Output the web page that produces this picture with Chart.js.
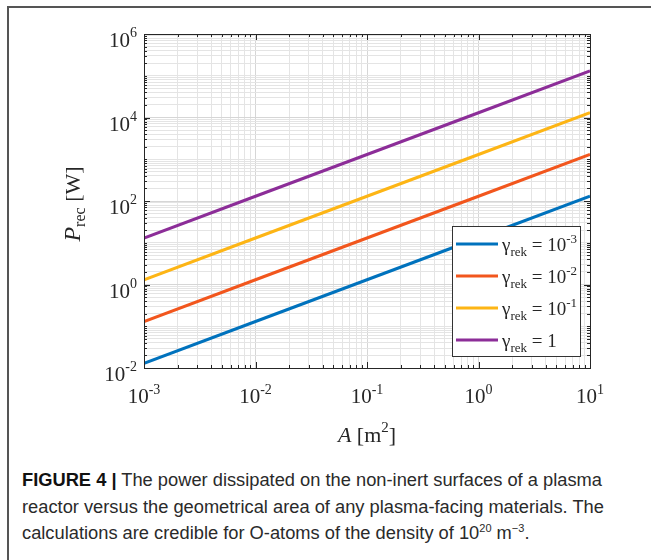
<!DOCTYPE html>
<html>
<head>
<meta charset="utf-8">
<script src="https://cdn.jsdelivr.net/npm/chart.js@4.4.1/dist/chart.umd.min.js"></script>
<style>
  body { margin: 0; background: #fff; width: 651px; height: 560px; overflow: hidden; position: relative; }
  #frame { position: absolute; left: 7px; top: 6px; width: 700px; height: 600px; border-left: 2px solid #555; border-top: 2px solid #555; }
  #wrap { position: absolute; left: 0; top: 0; width: 651px; height: 455px; }
  #caption { position: absolute; left: 22px; top: 467px; font-family: "Liberation Sans", Arial, sans-serif; font-size: 18.3px; line-height: 26.5px; color: #2a2a2a; white-space: nowrap; letter-spacing: 0; }
  #caption b { font-weight: bold; color: #111; }
  sup { font-size: 11px; line-height: 0; }
</style>
</head>
<body>
<div id="frame"></div>
<div id="wrap"><canvas id="grafico"></canvas></div>
<div id="caption"><b>FIGURE 4 |</b> The power dissipated on the non-inert surfaces of a plasma<br>reactor versus the geometrical area of any plasma-facing materials. The<br>calculations are credible for O-atoms of the density of 10<sup>20</sup> m<sup>−3</sup>.</div>
<script>
// dados
const areaA = [1e-3, 1e-2, 1e-1, 1, 10];          // A [m2]
const pGamma3 = [0.013, 0.13, 1.3, 13, 130];      // gamma = 10^-3
const pGamma2 = [0.13, 1.3, 13, 130, 1300];       // gamma = 10^-2
const pGamma1 = [1.3, 13, 130, 1300, 13000];      // gamma = 10^-1
const pGamma0 = [13, 130, 1300, 13000, 130000];   // gamma = 1
const legendExp = ['-3', '-2', '-1', ''];          // '' -> "= 1"
const cores = ['#0072BD', '#F2561D', '#FDB515', '#8C2D98'];

const xDecadas = [-3, -2, -1, 0, 1];      // rotulos do eixo x
const yDecadas = [-2, 0, 2, 4, 6];        // rotulos do eixo y

// ticks menores (1..9 x 10^n) para a grade log
function ticksLog(eMin, eMax, majores) {
    var t = [];
    for (var e = eMin; e <= eMax; e++) {
        for (var m = 1; m <= 9; m++) {
            if (e == eMax && m > 1) break;
            var v = m * Math.pow(10, e);
            t.push({ value: v, major: m == 1 && majores.includes(e) });
        }
    }
    return t;
}

const series = [pGamma3, pGamma2, pGamma1, pGamma0];
const datasets = series.map((s, i) => ({
    data: areaA.map((a, k) => ({ x: a, y: s[k] })),
    borderColor: cores[i],
    borderWidth: 3,
    pointRadius: 0,
    fill: false
}));

const serif = '"Liberation Serif", "Times New Roman", serif';

function potencia(ctx, exp, x, yBase, align, fb, fe, subir) {
    ctx.font = fb + 'px ' + serif;
    var wb = ctx.measureText('10').width;
    ctx.font = fe + 'px ' + serif;
    var we = ctx.measureText(exp).width;
    var x0 = align == 'right' ? x - wb - we : (align == 'center' ? x - (wb + we) / 2 : x);
    ctx.textAlign = 'left';
    ctx.textBaseline = 'alphabetic';
    ctx.font = fb + 'px ' + serif;
    ctx.fillText('10', x0, yBase);
    ctx.font = fe + 'px ' + serif;
    ctx.fillText(exp, x0 + wb, yBase - subir);
}

const decoracao = {
    id: 'decoracao',
    afterDraw(chart) {
        const ctx = chart.ctx, a = chart.chartArea, x = chart.scales.x, y = chart.scales.y;
        ctx.save();
        ctx.strokeStyle = '#262626';
        ctx.lineWidth = 1;
        ctx.beginPath();
        x.ticks.forEach(t => {
            var px = Math.round(x.getPixelForValue(t.value)) + 0.5;
            var len = t.major ? 6 : 3;
            ctx.moveTo(px, a.bottom); ctx.lineTo(px, a.bottom - len);
            ctx.moveTo(px, a.top); ctx.lineTo(px, a.top + len);
        });
        y.ticks.forEach(t => {
            var py = Math.round(y.getPixelForValue(t.value)) + 0.5;
            var len = t.major ? 6 : 3;
            ctx.moveTo(a.left, py); ctx.lineTo(a.left + len, py);
            ctx.moveTo(a.right, py); ctx.lineTo(a.right - len, py);
        });
        ctx.stroke();
        ctx.strokeRect(Math.round(a.left) + 0.5, Math.round(a.top) + 0.5, Math.round(a.right - a.left), Math.round(a.bottom - a.top));

        // rotulos dos ticks
        ctx.fillStyle = '#262626';
        xDecadas.forEach(e => {
            potencia(ctx, String(e), x.getPixelForValue(Math.pow(10, e)), 403, 'center', 21, 14, 9);
        });
        yDecadas.forEach(e => {
            var py = y.getPixelForValue(Math.pow(10, e));
            potencia(ctx, String(e), 137, py + 13, 'right', 21, 14, 10);
        });

        // titulo eixo x: A [m^2]
        ctx.fillStyle = '#262626';
        ctx.textBaseline = 'alphabetic';
        ctx.textAlign = 'left';
        var fA = 'italic 22px ' + serif, fN = '22px ' + serif, fS = '15px ' + serif;
        ctx.font = fA; var w1 = ctx.measureText('A ').width;
        ctx.font = fN; var w2 = ctx.measureText('[m').width;
        ctx.font = fS; var w3 = ctx.measureText('2').width;
        ctx.font = fN; var w4 = ctx.measureText(']').width;
        var xc = (a.left + a.right) / 2 - (w1 + w2 + w3 + w4) / 2, yb = 442;
        ctx.font = fA; ctx.fillText('A ', xc, yb);
        ctx.font = fN; ctx.fillText('[m', xc + w1, yb);
        ctx.font = fS; ctx.fillText('2', xc + w1 + w2, yb - 10);
        ctx.font = fN; ctx.fillText(']', xc + w1 + w2 + w3, yb);

        // titulo eixo y: P_rec [W]
        ctx.save();
        ctx.translate(80, 204);
        ctx.rotate(-Math.PI / 2);
        ctx.font = 'italic 24px ' + serif; var v1 = ctx.measureText('P').width;
        ctx.font = '16px ' + serif; var v2 = ctx.measureText('rec').width;
        ctx.font = '22px ' + serif; var v3 = ctx.measureText(' [W]').width;
        var x0 = -(v1 + v2 + v3) / 2;
        ctx.font = 'italic 24px ' + serif; ctx.fillText('P', x0, 0);
        ctx.font = '16px ' + serif; ctx.fillText('rec', x0 + v1, 5);
        ctx.font = '22px ' + serif; ctx.fillText(' [W]', x0 + v1 + v2, 0);
        ctx.restore();

        // legenda
        var lx = 452, ly = 226, lw = 128, lh = 130;
        ctx.fillStyle = '#fff';
        ctx.fillRect(lx, ly, lw, lh);
        ctx.strokeStyle = '#333';
        ctx.lineWidth = 1;
        ctx.strokeRect(lx + 0.5, ly + 0.5, lw, lh);
        legendExp.forEach((ex, i) => {
            var yy = 244 + i * 32;
            ctx.strokeStyle = cores[i];
            ctx.lineWidth = 3;
            ctx.beginPath();
            ctx.moveTo(456, yy); ctx.lineTo(498, yy);
            ctx.stroke();
            ctx.fillStyle = '#262626';
            ctx.textAlign = 'left';
            ctx.textBaseline = 'alphabetic';
            var tx = 502, base = yy + 7;
            ctx.font = '19px ' + serif; ctx.fillText('γ', tx, base); tx += ctx.measureText('γ').width;
            ctx.font = '13px ' + serif; ctx.fillText('rek', tx, base + 5); tx += ctx.measureText('rek').width;
            ctx.font = '19px ' + serif;
            if (ex === '') {
                ctx.fillText(' = 1', tx, base);
            } else {
                ctx.fillText(' = ', tx, base); tx += ctx.measureText(' = ').width;
                potencia(ctx, ex, tx, base, 'left', 19, 13, 8);
            }
        });
        ctx.restore();
    }
};

const grafico = new Chart(document.getElementById('grafico'), {
    type: 'line',
    data: { datasets: datasets },
    options: {
        responsive: true,
        maintainAspectRatio: false,
        animation: false,
        layout: { padding: { top: 34, right: 61, left: 0, bottom: 0 } },
        plugins: { legend: { display: false }, tooltip: { enabled: false } },
        scales: {
            x: {
                type: 'logarithmic',
                min: 1e-3,
                max: 10,
                afterBuildTicks: s => { s.ticks = ticksLog(-3, 1, xDecadas); },
                afterFit: s => { s.height = 455 - 368; },
                ticks: { display: false },
                border: { display: false },
                grid: { color: c => c.tick && c.tick.major ? '#d6d6d6' : '#e4e4e4', drawTicks: false }
            },
            y: {
                type: 'logarithmic',
                min: 1e-2,
                max: 1e6,
                afterBuildTicks: s => { s.ticks = ticksLog(-2, 6, yDecadas); },
                afterFit: s => { s.width = 144; },
                ticks: { display: false },
                border: { display: false },
                grid: { color: c => c.tick && c.tick.major ? '#d6d6d6' : '#e4e4e4', drawTicks: false }
            }
        }
    },
    plugins: [decoracao]
});
</script>
</body>
</html>
